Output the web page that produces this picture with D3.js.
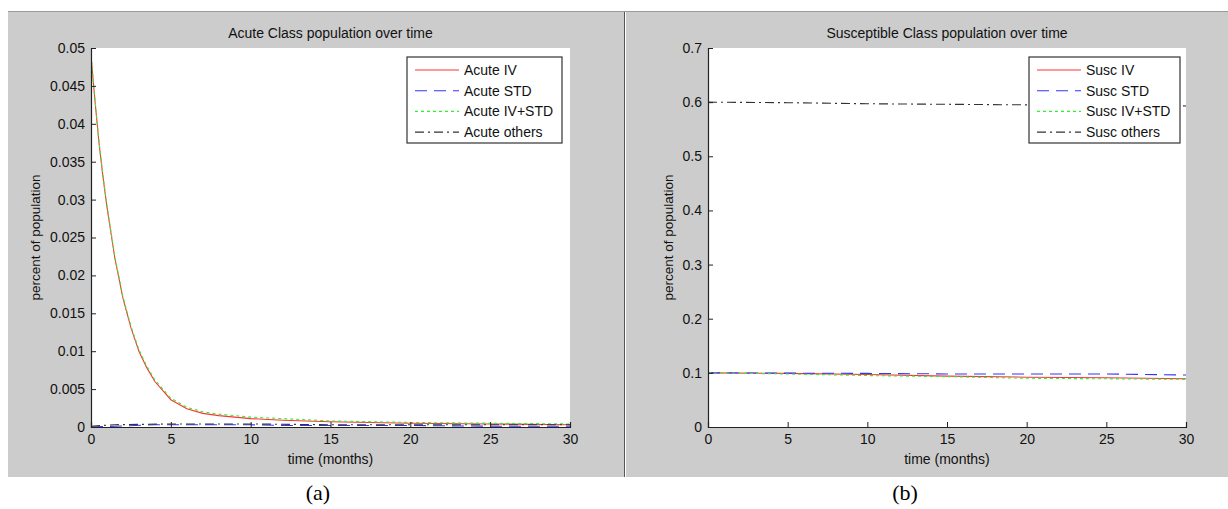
<!DOCTYPE html>
<html><head><meta charset="utf-8">
<script src="https://cdn.jsdelivr.net/npm/d3@7"></script>
<style>html,body{margin:0;padding:0;background:#fff;} svg{display:block;}</style>
</head><body>
<svg id="c" width="1228" height="509"></svg>
<script>
// ---- data ----
const acuteTime = [0, 0.25, 0.5, 0.75, 1, 1.5, 2, 2.5, 3, 3.5, 4, 5, 6, 7, 8, 10, 12, 15, 20, 25, 30];
const acuteIV    = [0.0490, 0.0430, 0.0375, 0.0330, 0.0290, 0.0222, 0.0170, 0.0131, 0.0100, 0.0078, 0.0060, 0.0036, 0.0024, 0.0018, 0.0015, 0.0011, 0.0009, 0.0007, 0.0005, 0.0004, 0.0003];
const acuteIVSTD = [0.0490, 0.0432, 0.0377, 0.0332, 0.0292, 0.0224, 0.0172, 0.0133, 0.0102, 0.0080, 0.0062, 0.0038, 0.0026, 0.0020, 0.0017, 0.0013, 0.0011, 0.0008, 0.0006, 0.0005, 0.0004];
const acuteOthersTime = [0, 1.5, 5, 10, 15, 20, 25, 30];
const acuteOthers = [0.0001, 0.0003, 0.0004, 0.0004, 0.0003, 0.0003, 0.0003, 0.0003];
const acuteSTDTime = [0, 1.5, 4, 10, 12, 15, 20, 25, 30];
const acuteSTD = [0.0000, 0.0001, 0.0003, 0.0003, 0.0002, 0.0002, 0.0002, 0.0001, 0.0001];

const suscTime = [0, 5, 10, 15, 20, 25, 30];
const suscIV     = [0.100, 0.099, 0.097, 0.094, 0.092, 0.091, 0.089];
const suscSTD    = [0.100, 0.0995, 0.099, 0.098, 0.098, 0.098, 0.096];
const suscIVSTD  = [0.100, 0.098, 0.095, 0.093, 0.090, 0.089, 0.088];
const suscOthers = [0.600, 0.599, 0.597, 0.596, 0.595, 0.594, 0.593];

const xTicks = [0, 5, 10, 15, 20, 25, 30];
const acuteYTicks = [0, 0.005, 0.01, 0.015, 0.02, 0.025, 0.03, 0.035, 0.04, 0.045, 0.05];
const suscYTicks = [0, 0.1, 0.2, 0.3, 0.4, 0.5, 0.6, 0.7];

const acuteNames = ["Acute IV", "Acute STD", "Acute IV+STD", "Acute others"];
const suscNames = ["Susc IV", "Susc STD", "Susc IV+STD", "Susc others"];

// ---- styles ----
const styles = [
  {color: "#ff3333", dash: null},
  {color: "#3333ff", dash: "12,7"},
  {color: "#33ee33", dash: "3,3"},
  {color: "#333333", dash: "9,4,2,4"}
];

const svg = d3.select("#c");
const sans = "Arial, 'Liberation Sans', sans-serif";

// backgrounds
svg.append("rect").attr("x", 8).attr("y", 12).attr("width", 616).attr("height", 465).attr("fill", "#cccccc");
svg.append("rect").attr("x", 626).attr("y", 12).attr("width", 602).attr("height", 465).attr("fill", "#cccccc");
svg.append("line").attr("x1", 8).attr("x2", 1228).attr("y1", 11.5).attr("y2", 11.5).attr("stroke", "#9a9a9a");
svg.append("line").attr("x1", 624.5).attr("x2", 624.5).attr("y1", 12).attr("y2", 477).attr("stroke", "#555");

function panel(opts) {
  const {x0, x1, y0, y1, yMax, yTicks, yFmt, title, series, names, legend, ylabelX, caption, captionX} = opts;
  const x = d3.scaleLinear().domain([0, 30]).range([x0, x1]);
  const y = d3.scaleLinear().domain([0, yMax]).range([y1, y0]);
  const g = svg.append("g");
  g.append("rect").attr("x", x0).attr("y", y0).attr("width", x1 - x0).attr("height", y1 - y0).attr("fill", "#fff");

  const clipId = "clip" + x0;
  svg.append("clipPath").attr("id", clipId).append("rect")
    .attr("x", x0).attr("y", y0 - 2).attr("width", x1 - x0 + 1).attr("height", y1 - y0 + 2);

  const line = d3.line().x(d => x(d[0])).y(d => y(d[1]));
  const lg = g.append("g").attr("clip-path", `url(#${clipId})`);
  series.forEach((s, i) => {
    const pts = s.t.map((t, k) => [t, s.v[k]]);
    lg.append("path").datum(pts).attr("d", line).attr("fill", "none")
      .attr("stroke", styles[i].color).attr("stroke-width", 1.1)
      .attr("stroke-dasharray", styles[i].dash);
  });

  // axes
  const xa = g.append("g").attr("transform", `translate(0,${y1})`)
    .call(d3.axisBottom(x).tickValues(xTicks).tickSize(-5).tickPadding(7).tickFormat(d3.format("d")));
  const ya = g.append("g").attr("transform", `translate(${x0},0)`)
    .call(d3.axisLeft(y).tickValues(yTicks).tickSize(-5).tickPadding(6).tickFormat(yFmt));
  [xa, ya].forEach(a => {
    a.select(".domain").attr("stroke", "#222").attr("stroke-width", 1.2);
    a.selectAll(".tick line").attr("stroke", "#222");
    a.selectAll("text").attr("font-family", sans).attr("font-size", 14).attr("fill", "#111");
  });

  // title and labels
  const cx = (x0 + x1) / 2;
  g.append("text").attr("x", cx).attr("y", 38).attr("text-anchor", "middle")
    .attr("font-family", sans).attr("font-size", 14).attr("fill", "#111").text(title);
  g.append("text").attr("x", cx).attr("y", 464).attr("text-anchor", "middle")
    .attr("font-family", sans).attr("font-size", 14).attr("fill", "#111").text("time (months)");
  g.append("text").attr("transform", `translate(${ylabelX},${(y0 + y1) / 2}) rotate(-90)`)
    .attr("text-anchor", "middle").attr("font-family", sans).attr("font-size", 13.5).attr("fill", "#111")
    .text("percent of population");

  // legend
  const lgd = g.append("g");
  lgd.append("rect").attr("x", legend.x).attr("y", legend.y).attr("width", legend.w).attr("height", legend.h)
    .attr("fill", "#fff").attr("stroke", "#333").attr("stroke-width", 1.2);
  names.forEach((n, i) => {
    const yy = legend.y + 13 + i * 20.7;
    lgd.append("line").attr("x1", legend.x + 8).attr("x2", legend.x + 52).attr("y1", yy).attr("y2", yy)
      .attr("stroke", styles[i].color).attr("stroke-width", 1.1).attr("stroke-dasharray", styles[i].dash);
    lgd.append("text").attr("x", legend.x + 57).attr("y", yy + 5)
      .attr("font-family", sans).attr("font-size", 14).attr("fill", "#111").text(n);
  });

  svg.append("text").attr("x", captionX).attr("y", 500).attr("text-anchor", "middle")
    .attr("font-family", "'Liberation Serif', 'Times New Roman', serif").attr("font-size", 22).attr("fill", "#000").text(caption);
}

panel({
  x0: 91, x1: 570, y0: 48, y1: 427, yMax: 0.05, yTicks: acuteYTicks,
  yFmt: d => d === 0 ? "0" : d3.format("")(+d.toFixed(3)),
  title: "Acute Class population over time",
  series: [
    {t: acuteTime, v: acuteIV},
    {t: acuteSTDTime, v: acuteSTD},
    {t: acuteTime, v: acuteIVSTD},
    {t: acuteOthersTime, v: acuteOthers}
  ],
  names: acuteNames,
  legend: {x: 407, y: 57, w: 155, h: 86},
  ylabelX: 40, caption: "(a)", captionX: 318
});

panel({
  x0: 708, x1: 1186, y0: 48, y1: 427, yMax: 0.7, yTicks: suscYTicks,
  yFmt: d => d === 0 ? "0" : d3.format(".1f")(d),
  title: "Susceptible Class population over time",
  series: [
    {t: suscTime, v: suscIV},
    {t: suscTime, v: suscSTD},
    {t: suscTime, v: suscIVSTD},
    {t: suscTime, v: suscOthers}
  ],
  names: suscNames,
  legend: {x: 1029, y: 57, w: 151, h: 86},
  ylabelX: 673, caption: "(b)", captionX: 905
});
</script>
</body></html>
